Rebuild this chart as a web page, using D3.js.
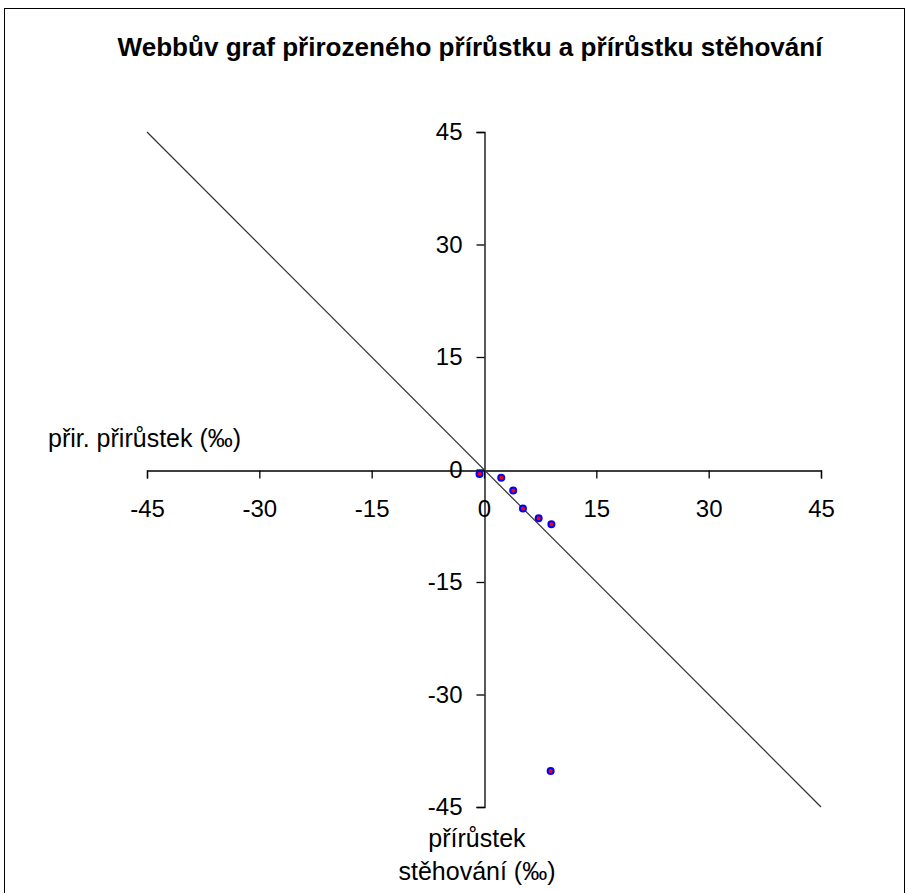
<!DOCTYPE html>
<html>
<head>
<meta charset="utf-8">
<script src="https://cdn.jsdelivr.net/npm/d3@7"></script>
<style>
  html, body { margin: 0; padding: 0; background: #fff; }
  text { font-family: "Liberation Sans", Arial, sans-serif; }
</style>
</head>
<body>
<script>
// migration growth (x) vs natural growth (y), per mille
const migration = [-0.6, 2.3, 3.9, 5.2, 7.3, 9.0, 8.9]
const natural = [-0.6, -1.1, -2.8, -5.2, -6.5, -7.3, -40.2]
const tickValues = [-45, -30, -15, 0, 15, 30, 45]
const diagonal = [[-45, 45], [45, -45]]

const w = 909
const h = 893

const svg = d3.select('body')
    .append('svg')
    .attr('width', w)
    .attr('height', h)

svg.append('rect')
    .attr('x', 4.5)
    .attr('y', 8.5)
    .attr('width', 900)
    .attr('height', 900)
    .attr('fill', '#fff')
    .attr('stroke', '#000')

svg.append('text')
    .attr('x', 470)
    .attr('y', 56)
    .attr('text-anchor', 'middle')
    .attr('font-size', 25)
    .attr('font-weight', 'bold')
    .attr('textLength', 705)
    .attr('lengthAdjust', 'spacingAndGlyphs')
    .text('Webbův graf přirozeného přírůstku a přírůstku stěhování')

let x = d3.scaleLinear()
    .domain([-45, 45])
    .range([147, 821])

let y = d3.scaleLinear()
    .domain([-45, 45])
    .range([807, 132])

const xAxis = d3.axisBottom(x)
    .tickValues(tickValues)
    .tickFormat(d => String(d))
    .tickSize(8)
    .tickPadding(21)

const yAxis = d3.axisLeft(y)
    .tickValues(tickValues)
    .tickFormat(d => String(d))
    .tickSize(8)
    .tickPadding(14)

const gx = svg.append('g')
    .attr('transform', `translate(0, ${Math.round(y(0)) + 0.5})`)
    .call(xAxis)

const gy = svg.append('g')
    .attr('transform', `translate(${Math.round(x(0)) + 0.5}, 0)`)
    .call(yAxis)

;[gx, gy].forEach(g => {
    g.select('.domain').attr('stroke', '#000').attr('stroke-width', 1.3)
    g.selectAll('.tick line').attr('stroke', '#000').attr('stroke-width', 1.3)
    g.selectAll('.tick text')
        .attr('font-size', 24)
        .attr('fill', '#000')
        .style('font-family', '"Liberation Sans", Arial, sans-serif')
})

svg.append('path')
    .datum(diagonal)
    .attr('d', d3.line().x(d => x(d[0])).y(d => y(d[1])))
    .attr('stroke', '#333')
    .attr('stroke-width', 1.2)
    .attr('fill', 'none')

svg.selectAll('circle')
    .data(migration.map((m, i) => ({ m, n: natural[i] })))
    .enter()
    .append('circle')
    .attr('cx', d => x(d.m))
    .attr('cy', d => y(d.n))
    .attr('r', 3)
    .attr('fill', '#f00')
    .attr('stroke', '#00f')
    .attr('stroke-width', 2)

svg.append('text')
    .attr('x', 48)
    .attr('y', 447)
    .attr('font-size', 25)
    .text('přir. přirůstek (‰)')

svg.append('text')
    .attr('x', 477)
    .attr('y', 847)
    .attr('text-anchor', 'middle')
    .attr('font-size', 25)
    .text('přírůstek')

svg.append('text')
    .attr('x', 477)
    .attr('y', 880)
    .attr('text-anchor', 'middle')
    .attr('font-size', 25)
    .text('stěhování (‰)')
</script>
</body>
</html>
